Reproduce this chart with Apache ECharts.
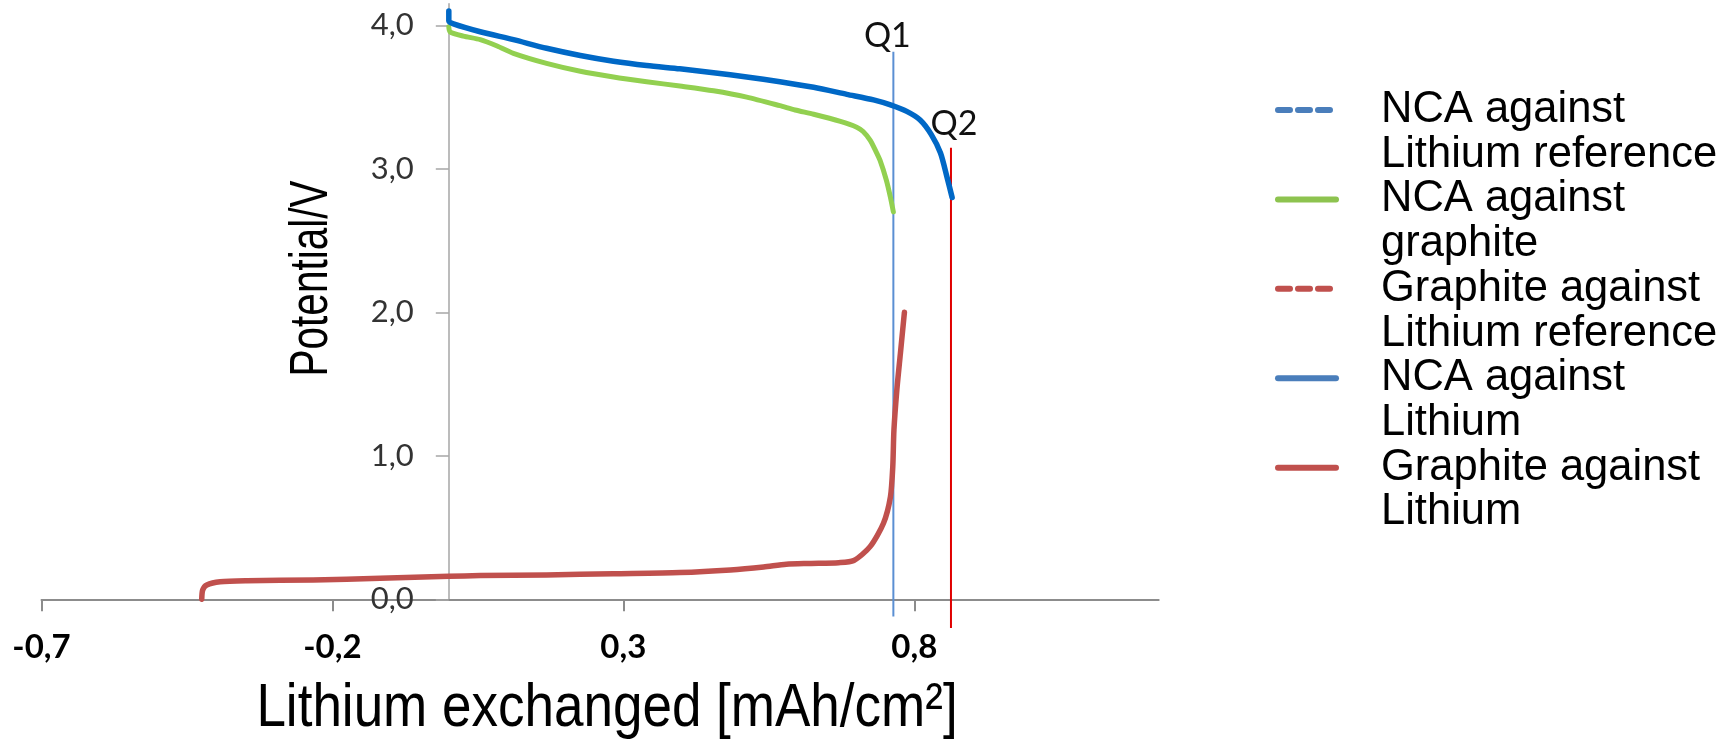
<!DOCTYPE html>
<html>
<head>
<meta charset="utf-8">
<title>Potential vs lithium exchanged</title>
<script src="https://cdn.jsdelivr.net/npm/echarts@6/dist/echarts.min.js"></script>
<style>
  html, body { margin: 0; padding: 0; background: #fff; }
  #chart { width: 1726px; height: 740px; }
</style>
</head>
<body>
<div id="chart"></div>
<script>
// Axis ticks
const xTicks = [-0.7, -0.2, 0.3, 0.8];
const yTicks = [0, 1, 2, 3, 4];

// Curves: [lithium exchanged (mAh/cm2), potential (V)]
const ncaVsLithium = [
  [0, 4.10], [0, 4.03], [0.008, 4.01], [0.054, 3.955], [0.111, 3.90], [0.168, 3.84],
  [0.226, 3.79], [0.283, 3.75], [0.340, 3.72], [0.397, 3.697], [0.455, 3.67],
  [0.512, 3.64], [0.569, 3.607], [0.627, 3.568], [0.684, 3.519], [0.730, 3.48],
  [0.759, 3.445], [0.787, 3.40], [0.810, 3.34], [0.829, 3.24], [0.845, 3.11],
  [0.856, 2.945], [0.865, 2.80]
];
const ncaVsGraphite = [
  [0, 3.99], [0.002, 3.955], [0.025, 3.925], [0.054, 3.90], [0.083, 3.856],
  [0.111, 3.805], [0.168, 3.735], [0.226, 3.68], [0.283, 3.64], [0.340, 3.607],
  [0.397, 3.577], [0.455, 3.544], [0.512, 3.50], [0.569, 3.44], [0.595, 3.41],
  [0.627, 3.38], [0.673, 3.33], [0.701, 3.29], [0.712, 3.26], [0.724, 3.20],
  [0.733, 3.13], [0.741, 3.06], [0.752, 2.92], [0.759, 2.80], [0.764, 2.70]
];
const graphiteVsLithium = [
  [-0.4246, 0], [-0.423, 0.065], [-0.416, 0.10], [-0.393, 0.123], [-0.347, 0.13],
  [-0.233, 0.134], [-0.118, 0.146], [0, 0.16], [0.054, 0.165], [0.168, 0.17],
  [0.283, 0.178], [0.397, 0.186], [0.484, 0.204], [0.541, 0.225], [0.580, 0.245],
  [0.620, 0.25], [0.670, 0.255], [0.696, 0.27], [0.724, 0.367], [0.747, 0.53],
  [0.759, 0.715], [0.763, 0.925], [0.765, 1.18], [0.770, 1.46], [0.776, 1.71],
  [0.783, 2.0]
];
// Reference curves (legend entries only)
const ncaVsLithiumRef = [];
const graphiteVsLithiumRef = [];

// Capacity markers Q1 / Q2: vertical segments
const markerNames = ['Q1', 'Q2'];
const q1Line = [[0.764, -0.12], [0.764, 3.816]];
const q2Line = [[0.863, -0.2], [0.863, 3.147]];

// Legend entries (series names) and their two-line captions
const seriesNames = [
  'NCA against Lithium reference',
  'NCA against graphite',
  'Graphite against Lithium reference',
  'NCA against Lithium',
  'Graphite against Lithium'
];
const legendCaptions = [
  ['NCA against', 'Lithium reference'],
  ['NCA against', 'graphite'],
  ['Graphite against', 'Lithium reference'],
  ['NCA against', 'Lithium'],
  ['Graphite against', 'Lithium']
];

const xTitle = 'Lithium exchanged [mAh/cm\u00B2]';
const yTitle = 'Potential/V';

const X_MIN = -0.7, X_MAX = 1.22, Y_MIN = 0, Y_MAX = 4.15;

// Plot frame in pixels
const GRID_LEFT = 41.5, GRID_WIDTH = 1117.2;
// pixel position of x = 0, where the potential axis stands
const ZERO_X_PX = GRID_LEFT + (0 - X_MIN) / (X_MAX - X_MIN) * GRID_WIDTH;

const fmt = v => v.toFixed(1).replace('.', ',');

function markerSeries(name, pts, color, labelOpts) {
  return {
    name: name,
    type: 'line',
    clip: false,
    silent: true,
    symbol: 'circle',
    symbolSize: 1,
    showSymbol: true,
    itemStyle: { color: 'rgba(0,0,0,0)' },
    lineStyle: { color: color, width: 2 },
    z: 1,
    data: pts.map((p, i) => i === pts.length - 1
      ? { value: p, label: Object.assign({
            show: true, formatter: name, position: 'top',
            fontFamily: 'Lato', fontSize: 34, color: '#111'
          }, labelOpts) }
      : { value: p })
  };
}

function curveSeries(name, data, color, width, dash) {
  return {
    name: name,
    type: 'line',
    data: data,
    symbol: 'none',
    showSymbol: false,
    smooth: 0.25,
    lineStyle: { color: color, width: width, type: dash || 'solid', cap: 'round', join: 'round' },
    itemStyle: { color: color },
    z: 2
  };
}

const chart = echarts.init(document.getElementById('chart'), null, { renderer: 'canvas' });

chart.setOption({
  animation: false,
  backgroundColor: '#fff',
  grid: {
    left: GRID_LEFT, top: 3.8, width: GRID_WIDTH, height: 595.5,
    containLabel: false, outerBoundsMode: 'none'
  },
  xAxis: {
    type: 'value', min: X_MIN, max: X_MAX, position: 'bottom',
    axisLine: { onZero: false, lineStyle: { color: '#8c8c8c', width: 2 } },
    axisTick: { customValues: xTicks, length: 12, lineStyle: { color: '#8c8c8c', width: 2 } },
    axisLabel: {
      customValues: xTicks, formatter: fmt, margin: 32,
      fontFamily: 'Lato', fontSize: 33, fontWeight: 'bold', color: '#000'
    },
    splitLine: { show: false }
  },
  yAxis: {
    type: 'value', min: Y_MIN, max: Y_MAX, position: 'left',
    offset: -(ZERO_X_PX - GRID_LEFT),
    axisLine: { onZero: false, lineStyle: { color: '#a6a6a6', width: 1.5 } },
    axisTick: { customValues: yTicks, length: 13, lineStyle: { color: '#a6a6a6', width: 1.5 } },
    axisLabel: {
      customValues: yTicks, formatter: fmt, margin: 35,
      fontFamily: 'Lato', fontSize: 31, color: '#333'
    },
    splitLine: { show: false }
  },
  legend: {
    orient: 'vertical',
    left: 1275, top: 43, padding: 0,
    itemWidth: 58, itemHeight: 14, itemGap: -44.7,
    selectedMode: false,
    lineStyle: { width: 6 },
    itemStyle: { opacity: 0 },
    formatter: name => ' \n' + legendCaptions[seriesNames.indexOf(name)].join('\n'),
    textStyle: {
      fontFamily: 'Liberation Sans', fontSize: 43.5, lineHeight: 44.7,
      color: '#000', padding: [0, 0, 0, 40]
    },
    data: [
      { name: seriesNames[0], lineStyle: { color: '#4a7ebb' } },
      { name: seriesNames[1], lineStyle: { color: '#8dc34f' } },
      { name: seriesNames[2], lineStyle: { color: '#c0504d' } },
      { name: seriesNames[3], lineStyle: { color: '#4a7ebb' } },
      { name: seriesNames[4], lineStyle: { color: '#c0504d' } }
    ]
  },
  graphic: [
    {
      type: 'text', x: 607, y: 709, scaleX: 0.855,
      style: {
        text: xTitle, fill: '#000', textAlign: 'center', textVerticalAlign: 'middle',
        font: '62px "Liberation Sans", Arial, sans-serif'
      }
    },
    {
      type: 'text', x: 312, y: 278.5, rotation: Math.PI / 2, scaleX: 0.75,
      style: {
        text: yTitle, fill: '#000', textAlign: 'center', textVerticalAlign: 'middle',
        font: '54px "Liberation Sans", Arial, sans-serif'
      }
    }
  ],
  series: [
    markerSeries(markerNames[0], q1Line, '#5b8fd3', { distance: 0, offset: [-6, 2] }),
    markerSeries(markerNames[1], q2Line, '#e00000', { distance: 6, offset: [3, 0] }),
    curveSeries(seriesNames[0], ncaVsLithiumRef, '#4a7ebb', 5, [12, 8]),
    curveSeries(seriesNames[2], graphiteVsLithiumRef, '#c0504d', 5, [12, 8]),
    curveSeries(seriesNames[4], graphiteVsLithium, '#c0504d', 5.5),
    curveSeries(seriesNames[1], ncaVsGraphite, '#92d050', 5),
    curveSeries(seriesNames[3], ncaVsLithium, '#0068c6', 5.5)
  ]
});
</script>
</body>
</html>
